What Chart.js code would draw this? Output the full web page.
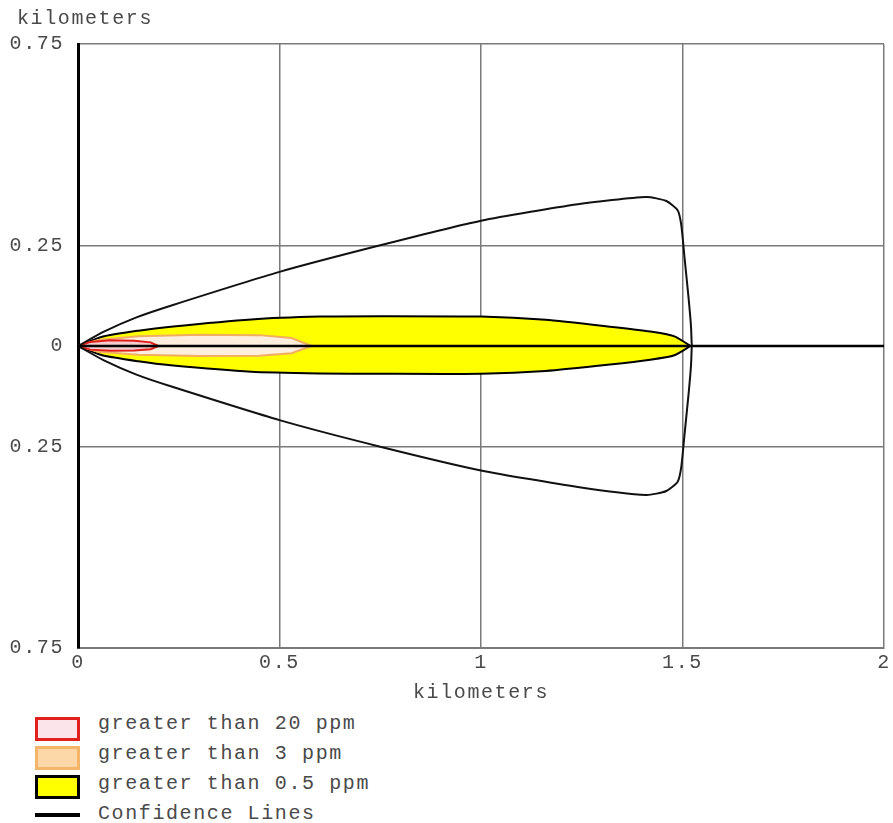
<!DOCTYPE html>
<html>
<head>
<meta charset="utf-8">
<script src="https://cdn.jsdelivr.net/npm/chart.js@4.4.1/dist/chart.umd.min.js"></script>
<style>
  body { margin: 0; background: #fff; width: 893px; height: 823px; position: relative; overflow: hidden; }
  #wrap { position: absolute; left: 0; top: 0; width: 893px; height: 705px; }
  .txt { position: absolute; font-family: "Liberation Mono", "DejaVu Sans Mono", monospace; font-size: 20px; letter-spacing: 1.6px; color: #4a4a4a; white-space: nowrap; line-height: 22px; }
  .box { position: absolute; left: 35px; width: 39px; height: 18px; box-sizing: content-box; }
</style>
</head>
<body>
<div id="wrap"><canvas id="zoneChart" width="893" height="705"></canvas></div>
<div class="txt" style="left:17px; top:8px;">kilometers</div>

<!-- legend -->
<div class="box" style="top:717px; border:3px solid #e0201c; background:#fbe4ea;"></div>
<div class="txt" style="left:98px; top:713px;">greater than 20 ppm</div>
<div class="box" style="top:746px; border:3px solid #f4b46a; background:#fcd8a8;"></div>
<div class="txt" style="left:98px; top:743px;">greater than 3 ppm</div>
<div class="box" style="top:775px; border:3px solid #000; background:#ffff00;"></div>
<div class="txt" style="left:98px; top:773px;">greater than 0.5 ppm</div>
<div style="position:absolute; left:35px; top:813px; width:45px; height:4px; background:#000;"></div>
<div class="txt" style="left:98px; top:803px;">Confidence Lines</div>

<script>
// Threat zone outlines, kilometers downwind (x) and crosswind (y)
const yellowX     = [0, 0.06, 0.15, 0.23, 0.43, 0.6, 0.75, 1.0, 1.16, 1.32, 1.42, 1.48, 1.52];
const yellowUpper = [0, 0.023, 0.038, 0.048, 0.066, 0.073, 0.074, 0.073, 0.065, 0.048, 0.036, 0.024, 0];
const yellowLower = [0, -0.023, -0.038, -0.048, -0.064, -0.068, -0.069, -0.069, -0.062, -0.046, -0.034, -0.023, 0];

const orangeX     = [0, 0.05, 0.15, 0.3, 0.45, 0.53, 0.58];
const orangeUpper = [0, 0.015, 0.024, 0.028, 0.027, 0.020, 0];
const orangeLower = [0, -0.014, -0.022, -0.025, -0.024, -0.018, 0];

const redX     = [0, 0.03, 0.08, 0.14, 0.18, 0.2];
const redUpper = [0, 0.010, 0.014, 0.013, 0.009, 0];
const redLower = [0, -0.009, -0.012, -0.011, -0.008, 0];

// Confidence lines
const confX     = [0, 0.063, 0.145, 0.23, 0.5, 0.75, 1.0, 1.24, 1.41, 1.46, 1.488, 1.497, 1.505, 1.515, 1.521, 1.523];
const confUpper = [0, 0.035, 0.071, 0.100, 0.184, 0.25, 0.311, 0.352, 0.370, 0.360, 0.337, 0.30, 0.22, 0.12, 0.05, 0];
const confLower = [0, -0.035, -0.071, -0.100, -0.184, -0.25, -0.309, -0.350, -0.370, -0.360, -0.337, -0.30, -0.22, -0.12, -0.05, 0];

// Downwind centerline
const centerX = [0, 2];
const centerY = [0, 0];

const xTicks = [0, 0.5, 1, 1.5, 2];
const yTicks = [-0.75, -0.25, 0, 0.25, 0.75];

// build a closed outline: upper edge out, lower edge back
function outline(xs, upper, lower) {
    const pts = xs.map((x, i) => ({ x: x, y: upper[i] }));
    for (let i = xs.length - 1; i >= 0; i--) {
        pts.push({ x: xs[i], y: lower[i] });
    }
    return pts;
}

const mono = "'Liberation Mono', 'DejaVu Sans Mono', monospace";

// canvas letter spacing to widen the courier-ish text
const spacing = {
    id: 'spacing',
    beforeDraw(chart) { chart.ctx.letterSpacing = '1.6px'; }
};

const ctx = document.getElementById('zoneChart').getContext('2d');
new Chart(ctx, {
    type: 'scatter',
    data: {
        datasets: [
            { data: centerX.map((x, i) => ({ x: x, y: centerY[i] })), showLine: true, borderColor: '#000', borderWidth: 2.5, pointRadius: 0, fill: false },
            { data: outline(confX, confUpper, confLower), showLine: true, borderColor: '#111', borderWidth: 2, pointRadius: 0, fill: false, tension: 0.2 },
            { data: outline(redX, redUpper, redLower), showLine: true, borderColor: '#e0201c', backgroundColor: '#f6cccc', borderWidth: 2, pointRadius: 0, fill: 'shape' },
            { data: outline(orangeX, orangeUpper, orangeLower), showLine: true, borderColor: '#f2ae60', backgroundColor: '#fdeedd', borderWidth: 2, pointRadius: 0, fill: 'shape' },
            { data: outline(yellowX, yellowUpper, yellowLower), showLine: true, borderColor: '#000', backgroundColor: '#ffff00', borderWidth: 2, pointRadius: 0, fill: 'shape', tension: 0.2 }
        ]
    },
    options: {
        responsive: false,
        animation: false,
        layout: { padding: { left: 0, right: 6, top: 44, bottom: 0 } },
        plugins: { legend: { display: false }, tooltip: { enabled: false } },
        scales: {
            x: {
                type: 'linear', min: 0, max: 2,
                afterBuildTicks: scale => { scale.ticks = xTicks.map(v => ({ value: v })); },
                afterFit: scale => { scale.height = 57; },
                grid: { color: '#7a7a7a', lineWidth: 1.5, drawTicks: false },
                border: { color: '#7a7a7a', width: 2 },
                ticks: { color: '#4a4a4a', font: { family: mono, size: 20 }, padding: 3, maxRotation: 0,
                         callback: v => String(v) },
                title: { display: true, text: 'kilometers', color: '#4a4a4a', font: { family: mono, size: 20 }, padding: { top: 2, bottom: 0 } }
            },
            y: {
                type: 'linear', min: -0.75, max: 0.75,
                afterBuildTicks: scale => { scale.ticks = yTicks.map(v => ({ value: v })); },
                afterFit: scale => { scale.width = 78; },
                grid: { color: '#7a7a7a', lineWidth: 1.5, drawTicks: false },
                border: { color: '#000', width: 3 },
                ticks: { color: '#4a4a4a', font: { family: mono, size: 20 }, padding: 14,
                         callback: v => String(Math.abs(v)) }
            }
        }
    },
    plugins: [spacing]
});
</script>
</body>
</html>
